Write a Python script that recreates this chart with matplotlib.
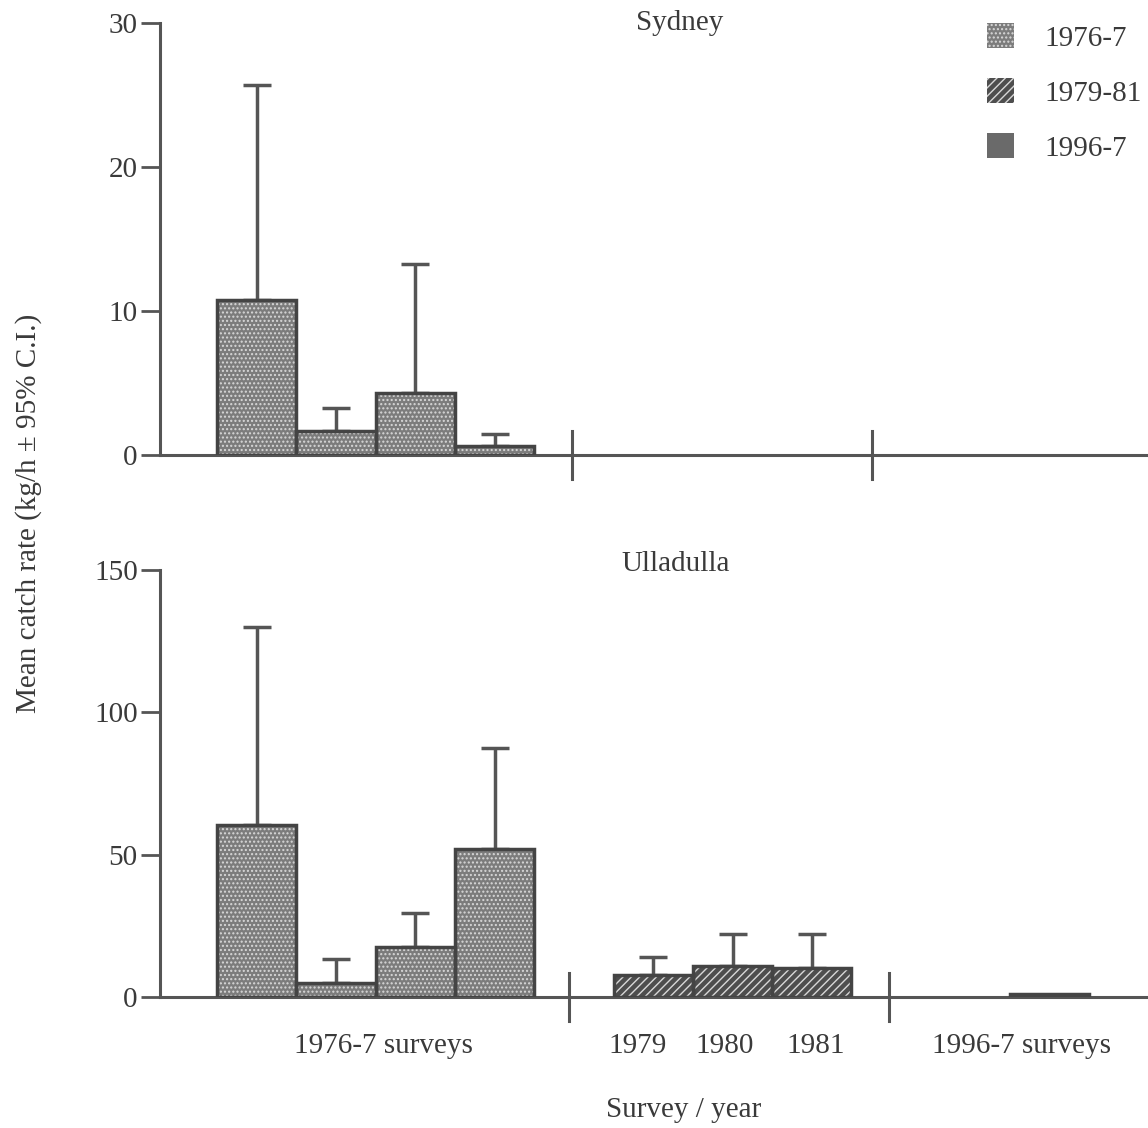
import matplotlib.pyplot as plt
import numpy as np
from matplotlib.patches import Patch

plt.rcParams['font.family'] = ['Liberation Serif', 'DejaVu Serif']
FONTSIZE = 21
TXT = '#3a3a3a'
LN = '#555555'

# Sydney (1976-7 survey only)
syd_x = [0.5, 1.5, 2.5, 3.5]
syd_mean = [10.8, 1.7, 4.3, 0.6]
syd_ci = [25.7, 3.3, 13.3, 1.45]

# Ulladulla
ull76_x = [0.5, 1.5, 2.5, 3.5]
ull76_mean = [60.4, 4.9, 17.6, 52.0]
ull76_ci = [130.0, 13.3, 29.5, 87.5]
ull79_x = [5.5, 6.5, 7.5]
ull79_mean = [7.7, 10.9, 10.2]
ull79_ci = [14.0, 22.0, 22.0]
ull96_x = [10.5]
ull96_mean = [1.2]

group_labels = ['1976-7 surveys', '1979', '1980', '1981', '1996-7 surveys']
group_pos = [2.1, 5.3, 6.4, 7.55, 10.15]
legend_labels = ['1976-7', '1979-81', '1996-7']

STY76 = dict(fc='#7c7c7c', hatch='....')
STY79 = dict(fc='#4e4e4e', hatch='////')
STY96 = dict(fc='#6a6a6a', hatch=None)


def bars(ax, x, y, sty):
    ax.bar(x, y, width=1.0, color=sty['fc'], edgecolor='#d8d8d8', hatch=sty['hatch'], linewidth=0, zorder=2)
    ax.bar(x, y, width=1.0, facecolor='none', edgecolor='#444444', linewidth=2.5, zorder=3)


def errs(ax, x, y, ci):
    y = np.array(y)
    up = np.array(ci) - y
    ax.errorbar(x, y, yerr=[np.zeros_like(up), up], fmt='none', ecolor=LN,
                elinewidth=2.5, capsize=10, capthick=2.5, zorder=1)


def style(ax, ymax, step):
    ax.set_xlim(-0.72, 11.74)
    ax.set_ylim(0, ymax)
    ax.spines['top'].set_visible(False)
    ax.spines['right'].set_visible(False)
    for s in ('left', 'bottom'):
        ax.spines[s].set_color(LN)
        ax.spines[s].set_linewidth(2.2)
    ax.set_yticks(np.arange(0, ymax + 1, step))
    ax.tick_params(axis='y', length=14, width=2, color=LN, labelcolor=TXT, labelsize=FONTSIZE, pad=2)


fig = plt.figure(figsize=(11.48, 11.28), dpi=100)
ax1 = fig.add_axes([0.1394, 0.5966, 0.8606, 0.383])
ax2 = fig.add_axes([0.1394, 0.1161, 0.8606, 0.3786])

# Sydney
bars(ax1, syd_x, syd_mean, STY76)
errs(ax1, syd_x, syd_mean, syd_ci)
style(ax1, 30, 10)
ax1.set_xticks([])
for xs in (4.48, 8.26):
    ax1.axvline(xs, ymin=-0.056, ymax=0.056, color=LN, lw=2.2, clip_on=False)
ax1.text(5.84, 30, 'Sydney', ha='center', va='center', fontsize=FONTSIZE, color=TXT)

# Ulladulla
bars(ax2, ull76_x, ull76_mean, STY76)
errs(ax2, ull76_x, ull76_mean, ull76_ci)
bars(ax2, ull79_x, ull79_mean, STY79)
errs(ax2, ull79_x, ull79_mean, ull79_ci)
bars(ax2, ull96_x, ull96_mean, STY96)
style(ax2, 150, 50)
for xs in (4.44, 8.47):
    ax2.axvline(xs, ymin=-0.056, ymax=0.056, color=LN, lw=2.2, clip_on=False)
ax2.set_xticks(group_pos)
ax2.set_xticklabels(group_labels)
ax2.tick_params(axis='x', length=0, pad=26, labelsize=FONTSIZE, labelcolor=TXT)
ax2.text(5.78, 152, 'Ulladulla', ha='center', va='center', fontsize=FONTSIZE, color=TXT)
ax2.set_xlabel('Survey / year', fontsize=FONTSIZE, color=TXT)
ax2.xaxis.set_label_coords(0.53, -0.235)

fig.text(0.025, 0.545, 'Mean catch rate (kg/h \u00b1 95% C.I.)', rotation=90,
         ha='center', va='center', fontsize=FONTSIZE, color=TXT)

handles = [Patch(facecolor=s['fc'], edgecolor='#d8d8d8', hatch=s['hatch'], linewidth=0)
           for s in (STY76, STY79, STY96)]
ax1.legend(handles, legend_labels, loc='upper right', bbox_to_anchor=(1.02, 1.06), frameon=False,
           fontsize=FONTSIZE, labelcolor=TXT, handlelength=0.9, handleheight=0.9,
           labelspacing=0.92, handletextpad=1.05)

fig.savefig('out.png', dpi=100)
